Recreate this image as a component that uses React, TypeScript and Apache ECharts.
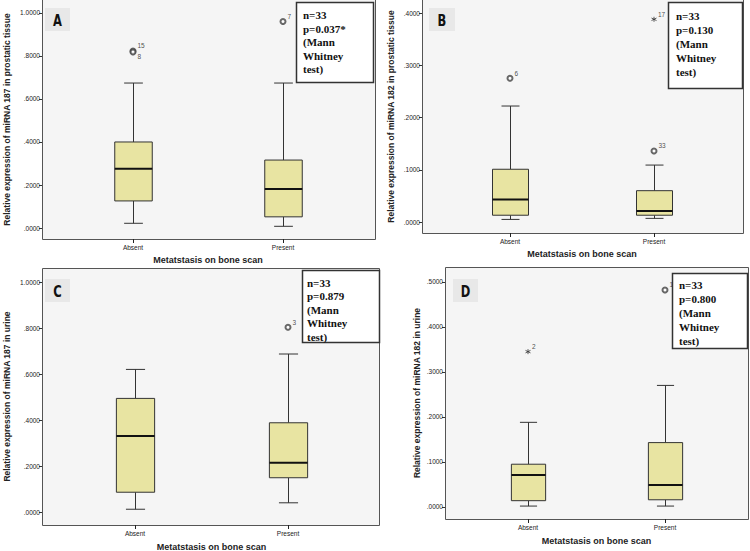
import React, { useEffect, useRef } from 'react';
import * as echarts from 'echarts';

// ---------- data ----------
const categories = ['Absent', 'Present'];
const ticks187 = [0, 0.2, 0.4, 0.6, 0.8, 1.0];
const ticksB = [0, 0.1, 0.2, 0.3, 0.4];
const ticksD = [0, 0.1, 0.2, 0.3, 0.4, 0.5];

// [min, Q1, median, Q3, max] per category (Absent, Present)
const boxA = [[0.022, 0.126, 0.275, 0.400, 0.674], [0.008, 0.052, 0.181, 0.316, 0.674]];
const boxB = [[0.005, 0.013, 0.043, 0.101, 0.222], [0.007, 0.013, 0.021, 0.060, 0.109]];
const boxC = [[0.012, 0.086, 0.330, 0.494, 0.620], [0.040, 0.149, 0.214, 0.388, 0.687]];
const boxD = [[0.002, 0.014, 0.071, 0.095, 0.188], [0.002, 0.016, 0.049, 0.143, 0.270]];

// outliers (circles): [category index, value, case id]
const outA: any[] = [[0, 0.823, '15'], [0, 0.818, '8'], [1, 0.960, '7']];
const outB: any[] = [[0, 0.275, '6'], [1, 0.136, '33']];
const outC: any[] = [[1, 0.803, '3']];
const outD: any[] = [[1, 0.482, '1']];
// extremes (stars)
const extA: any[] = [];
const extB: any[] = [[1, 0.388, '17']];
const extC: any[] = [];
const extD: any[] = [[0, 0.345, '2']];

const yTitleA = 'Relative expression of miRNA 187 in prostatic tissue';
const yTitleB = 'Relative expression of miRNA 182 in prostatic tissue';
const yTitleC = 'Relative expression of miRNA 187 in urine';
const yTitleD = 'Relative expression of miRNA 182 in urine';
const xTitle = 'Metatstasis on bone scan';

const statsA = ['n=33', 'p=0.037*', '(Mann', 'Whitney', 'test)'];
const statsB = ['n=33', 'p=0.130', '(Mann', 'Whitney', 'test)'];
const statsC = ['n=33', 'p=0.879', '(Mann', 'Whitney', 'test)'];
const statsD = ['n=33', 'p=0.800', '(Mann', 'Whitney', 'test)'];

// ---------- layout ----------
const SANS = '"Liberation Sans", Arial, sans-serif';
const SERIF = '"Liberation Serif", "Times New Roman", serif';
const NARROW = '"DejaVu Sans", "Liberation Sans", sans-serif';

const panels = [
  {
    letter: 'A', box: boxA, out: outA, ext: extA, ticks: ticks187, min: -0.051, max: 1.06,
    yTitle: yTitleA, stats: statsA,
    frame: { l: 42, t: -1, r: 375, b: 239 }, plotTop: 0, c0: 133, c1: 283,
    letterBox: { x: 45, y: 8, w: 25, h: 23 },
    statsBox: { x: 296, y: 2, w: 77, h: 80 }, statsText: { x: 303, y: 8.5, lh: 13.5 },
    yGap: 31, xGap: 16,
  },
  {
    letter: 'B', box: boxB, out: outB, ext: extB, ticks: ticksB, min: -0.021, max: 0.4249,
    yTitle: yTitleB, stats: statsB,
    frame: { l: 422, t: -1, r: 743, b: 233 }, plotTop: 0, c0: 510, c1: 654,
    letterBox: { x: 429, y: 8, w: 26, h: 23 },
    statsBox: { x: 668, y: 2, w: 74, h: 86 }, statsText: { x: 676, y: 8.5, lh: 14 },
    yGap: 27, xGap: 16,
  },
  {
    letter: 'C', box: boxC, out: outC, ext: extC, ticks: ticks187, min: -0.0565, max: 1.061,
    yTitle: yTitleC, stats: statsC,
    frame: { l: 42, t: 268, r: 379, b: 525 }, plotTop: 268, c0: 135, c1: 288,
    letterBox: { x: 45, y: 279, w: 25, h: 23 },
    statsBox: { x: 302, y: 270, w: 77, h: 72 }, statsText: { x: 307, y: 276, lh: 13.5 },
    yGap: 31, xGap: 17,
  },
  {
    letter: 'D', box: boxD, out: outD, ext: extD, ticks: ticksD, min: -0.0267, max: 0.533,
    yTitle: yTitleD, stats: statsD,
    frame: { l: 445, t: 267, r: 748, b: 519 }, plotTop: 267, c0: 528, c1: 665,
    letterBox: { x: 453, y: 279, w: 25, h: 23 },
    statsBox: { x: 672, y: 273, w: 75, h: 75 }, statsText: { x: 679, y: 278, lh: 14 },
    yGap: 24, xGap: 17,
  },
];

const fmtTick = (v: number) => v.toFixed(4).replace(/^0\./, '.');

const STAR = 'path://M5,0 L5,10 M0.7,2.5 L9.3,7.5 M0.7,7.5 L9.3,2.5';

function buildOption() {
  const grid: any[] = [];
  const xAxis: any[] = [];
  const yAxis: any[] = [];
  const series: any[] = [];
  const graphic: any[] = [];

  panels.forEach((p, i) => {
    const d = p.c1 - p.c0;
    const gLeft = p.c0 - d / 2;
    grid.push({
      left: gLeft, top: p.plotTop, width: 2 * d, height: p.frame.b - p.plotTop,
      containLabel: false, outerBoundsMode: 'none', show: false,
    });
    xAxis.push({
      type: 'category', gridIndex: i, data: categories, boundaryGap: true, position: 'bottom',
      axisLine: { show: true, onZero: false, lineStyle: { color: '#555', width: 1 } },
      axisTick: { show: true, alignWithLabel: true, length: 4, lineStyle: { color: '#222', width: 1 } },
      axisLabel: { fontSize: 6.5, margin: 5, color: '#222', fontFamily: SANS },
      splitLine: { show: false },
      name: xTitle, nameLocation: 'middle', nameGap: p.xGap,
      nameTextStyle: { fontSize: 9, fontWeight: 'bold', color: '#222', fontFamily: SANS },
    });
    yAxis.push({
      type: 'value', gridIndex: i, min: p.min, max: p.max,
      offset: gLeft - p.frame.l,
      axisLine: { show: false, onZero: false },
      splitLine: { show: false },
      axisTick: { show: true, length: 3, customValues: p.ticks, lineStyle: { color: '#333', width: 1 } },
      axisLabel: {
        customValues: p.ticks, formatter: (v: number) => fmtTick(v), fontSize: 6.5, margin: 2,
        color: '#222', fontFamily: SANS,
      },
      name: p.yTitle, nameLocation: 'middle', nameGap: p.yGap, nameRotate: 90,
      nameTextStyle: { fontSize: 8.5, fontWeight: 'bold', color: '#222', fontFamily: SANS },
    });

    series.push({
      type: 'custom', xAxisIndex: i, yAxisIndex: i, silent: true, z: 3,
      data: p.box.map((b, k) => [k, ...b]),
      encode: { x: 0, y: [1, 2, 3, 4, 5] },
      renderItem: (params: any, api: any) => {
        const x = api.value(0);
        const lo = api.coord([x, api.value(1)]);
        const q1 = api.coord([x, api.value(2)]);
        const md = api.coord([x, api.value(3)]);
        const q3 = api.coord([x, api.value(4)]);
        const hi = api.coord([x, api.value(5)]);
        const band = api.size([1, 0])[0];
        const bw = band * 0.25;
        const cw = bw / 2;
        const cx = Math.round(lo[0]) + 0.5;
        const st = { stroke: '#333', lineWidth: 1 };
        return {
          type: 'group',
          children: [
            { type: 'line', shape: { x1: cx, y1: lo[1], x2: cx, y2: q1[1] }, style: st },
            { type: 'line', shape: { x1: cx, y1: q3[1], x2: cx, y2: hi[1] }, style: st },
            { type: 'line', shape: { x1: cx - cw / 2, y1: lo[1], x2: cx + cw / 2, y2: lo[1] }, style: st },
            { type: 'line', shape: { x1: cx - cw / 2, y1: hi[1], x2: cx + cw / 2, y2: hi[1] }, style: st },
            {
              type: 'rect', shape: { x: cx - bw / 2, y: q3[1], width: bw, height: q1[1] - q3[1] },
              style: { fill: '#e8e4a2', stroke: '#333', lineWidth: 1 },
            },
            { type: 'line', shape: { x1: cx - bw / 2, y1: md[1], x2: cx + bw / 2, y2: md[1] }, style: { stroke: '#111', lineWidth: 2 } },
          ],
        };
      },
    });

    const mkPts = (arr: any[]) =>
      arr.map((o: any) => ({
        value: [o[0], o[1]],
        label: {
          formatter: o[2],
          offset: o[2] === '8' ? [0, 4] : [0, -5],
        },
      }));

    series.push({
      type: 'scatter', xAxisIndex: i, yAxisIndex: i, silent: true, z: 4,
      symbol: 'emptyCircle', symbolSize: 5,
      itemStyle: { color: '#444', borderWidth: 0.7 },
      label: { show: true, position: 'right', distance: 1, fontSize: 6.5, color: '#222', fontFamily: SANS },
      data: mkPts(p.out),
    });
    series.push({
      type: 'scatter', xAxisIndex: i, yAxisIndex: i, silent: true, z: 4,
      symbol: STAR, symbolSize: 5,
      itemStyle: { color: '#333', borderColor: '#333', borderWidth: 1 },
      label: { show: true, position: 'right', distance: 1, fontSize: 6.5, color: '#222', fontFamily: SANS },
      data: mkPts(p.ext),
    });

    // plot frame
    graphic.push({
      type: 'rect', z: -1, silent: true,
      shape: { x: p.frame.l + 0.5, y: p.frame.t + 0.5, width: p.frame.r - p.frame.l, height: p.frame.b - p.frame.t },
      style: { fill: '#f5f5f5', stroke: '#555', lineWidth: 1 },
    });
    // letter box
    graphic.push({
      type: 'rect', z: 5, silent: true,
      shape: { x: p.letterBox.x, y: p.letterBox.y, width: p.letterBox.w, height: p.letterBox.h },
      style: { fill: '#e8e8e8' },
    });
    graphic.push({
      type: 'text', z: 6, silent: true,
      x: p.letterBox.x + p.letterBox.w / 2, y: p.letterBox.y + p.letterBox.h / 2 + 0.5,
      scaleX: 0.72,
      style: {
        text: p.letter, fill: '#111', fontSize: 16, fontWeight: 'bold', fontFamily: NARROW,
        align: 'center', verticalAlign: 'middle',
      },
    });
    // stats box
    graphic.push({
      type: 'rect', z: 7, silent: true,
      shape: { x: p.statsBox.x + 0.5, y: p.statsBox.y + 0.5, width: p.statsBox.w, height: p.statsBox.h },
      style: { fill: '#ffffff', stroke: '#333', lineWidth: 1.5 },
    });
    graphic.push({
      type: 'text', z: 8, silent: true,
      x: p.statsText.x, y: p.statsText.y,
      style: {
        text: p.stats.join('\n'), fill: '#111', fontSize: 11, fontWeight: 'bold', fontFamily: SERIF,
        lineHeight: p.statsText.lh, align: 'left', verticalAlign: 'top',
      },
    });
  });

  return {
    animation: false,
    backgroundColor: '#ffffff',
    grid, xAxis, yAxis, series, graphic,
  };
}

export default function App() {
  const ref = useRef<HTMLDivElement>(null);
  useEffect(() => {
    if (!ref.current) return;
    const chart = echarts.init(ref.current, undefined, { renderer: 'svg' });
    chart.setOption(buildOption() as any);
    return () => chart.dispose();
  }, []);
  return (
    <div
      ref={ref}
      style={{ position: 'absolute', left: 0, top: 0, width: 750, height: 551, background: '#fff' }}
    />
  );
}
